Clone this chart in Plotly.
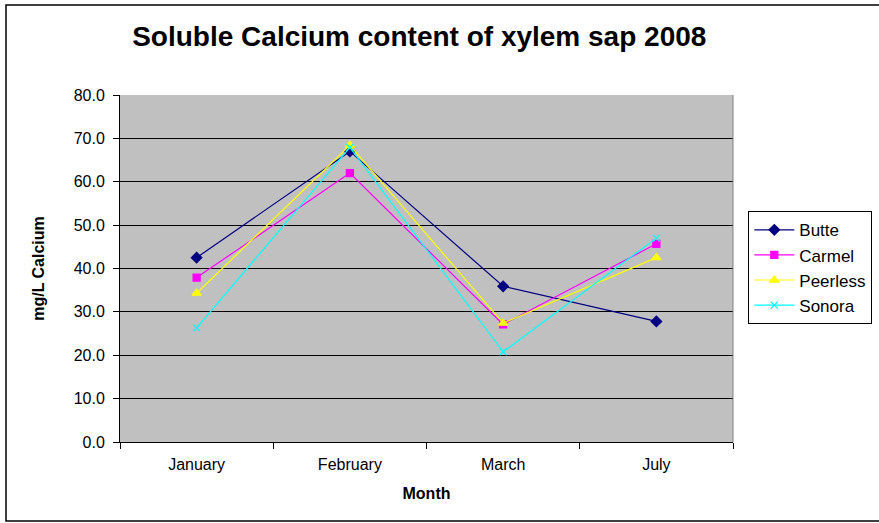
import plotly.graph_objects as go

months = ["January", "February", "March", "July"]
butte = [42.5, 67.0, 35.9, 27.8]
carmel = [37.9, 62.0, 27.1, 45.7]
peerless = [34.3, 68.4, 27.4, 42.5]
sonora = [26.3, 67.9, 20.8, 47.0]

series = [
    ("Butte", butte, "#000080", "diamond", 8),
    ("Carmel", carmel, "#FF00FF", "square", 7),
    ("Peerless", peerless, "#FFFF00", "triangle-up", 8),
    ("Sonora", sonora, "#00FFFF", "x-thin-open", 7),
]

fig = go.Figure()
for name, vals, color, sym, size in series:
    fig.add_trace(go.Scatter(
        x=months, y=vals, name=name, mode="lines+markers",
        legendgroup=name,
        line=dict(color=color, width=1.2),
        marker=dict(symbol=sym, size=size, color=color,
                    line=dict(color=color, width=1.3)),
    ))

font_family = "Liberation Sans, Arial, sans-serif"

fig.update_layout(
    width=879, height=523,
    margin=dict(l=120, r=146, t=95, b=81, autoexpand=False),
    paper_bgcolor="white",
    plot_bgcolor="#C0C0C0",
    font=dict(family=font_family, size=16, color="black"),
    title=dict(text="<b>Soluble Calcium content of xylem sap 2008</b>",
               font=dict(size=28, family=font_family),
               x=0.477, xanchor="center", y=0.93, yanchor="middle"),
    xaxis=dict(
        type="category", range=[-0.5, 3.5],
        tickson="boundaries", ticks="outside", ticklen=6, tickcolor="black",
        showline=True, linecolor="black", linewidth=1,
        showgrid=False, mirror=False,
        ticklabelstandoff=8,
        title=dict(text="<b>Month</b>", font=dict(size=16), standoff=15),
        tickfont=dict(size=16),
    ),
    yaxis=dict(
        range=[0, 80], dtick=10, tickformat=".1f",
        ticks="outside", ticklen=6, tickcolor="black",
        showline=True, linecolor="black", linewidth=1,
        showgrid=True, gridcolor="black", gridwidth=1,
        zeroline=False,
        ticklabelstandoff=5,
        title=dict(text="<b>mg/L Calcium</b>", font=dict(size=16), standoff=25),
        tickfont=dict(size=16),
    ),
    legend=dict(
        x=1.025, xanchor="left", y=0.665, yanchor="top",
        bordercolor="black", borderwidth=1, bgcolor="white",
        font=dict(size=17), itemwidth=40, tracegroupgap=0,
    ),
    shapes=[
        # outer chart frame
        dict(type="rect", xref="paper", yref="paper",
             x0=(6 - 120) / 613, x1=(900 - 120) / 613,
             y0=(442 - 521) / 347, y1=(442 - 5) / 347,
             line=dict(color="black", width=1.5), layer="below"),
        # plot area border on the right
        dict(type="line", xref="paper", yref="paper",
             x0=1, x1=1, y0=0, y1=1,
             line=dict(color="#808080", width=1)),
    ],
)

fig.write_html("out.html")
